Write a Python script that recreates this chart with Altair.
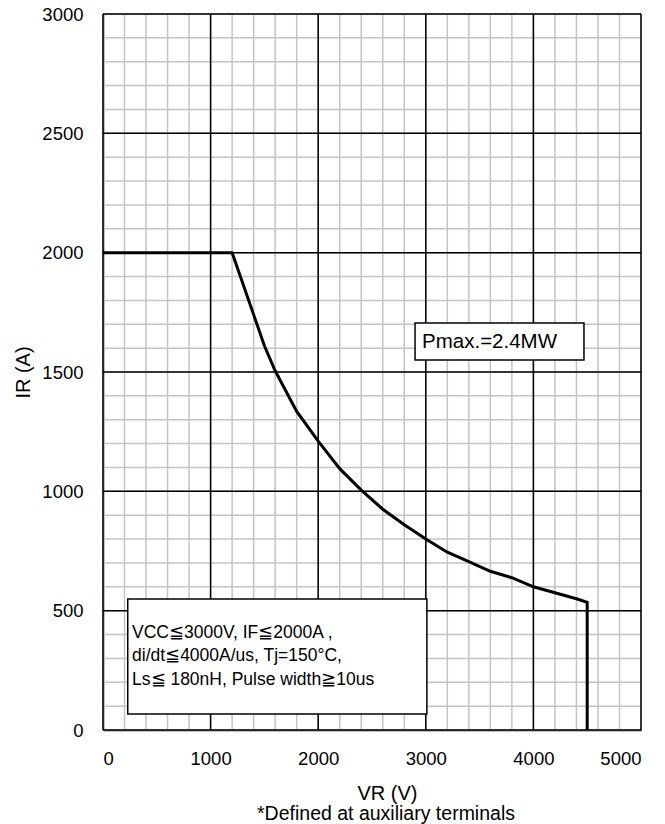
import altair as alt
import pandas as pd

# Curve data
VR = [0, 1200, 1500, 1600, 1800, 2000, 2200, 2400, 2600, 2800, 3000,
      3200, 3400, 3600, 3800, 4000, 4200, 4400, 4500, 4500]
IR = [2000, 2000, 1610, 1505, 1335, 1210, 1095, 1005, 925, 860, 800,
      745, 705, 665, 638, 600, 575, 550, 535, 0]

X_TICKS = [0, 1000, 2000, 3000, 4000, 5000]
Y_TICKS = [0, 500, 1000, 1500, 2000, 2500, 3000]
X_MINOR = list(range(0, 5001, 200))
Y_MINOR = list(range(0, 3001, 100))

NOTE_LINES = ["VCC≦3000V, IF≦2000A ,",
              "di/dt≦4000A/us, Tj=150°C,",
              "Ls≦ 180nH, Pulse width≧10us"]
NOTE_Y = [406, 310, 209]
PMAX_TEXT = "Pmax.=2.4MW"
FOOTNOTE = "*Defined at auxiliary terminals"

FONT = "Liberation Sans"

curve = pd.DataFrame({"VR": VR, "IR": IR, "i": list(range(len(VR)))})

xs = alt.Scale(domain=[0, 5000], nice=False, zero=False)
ys = alt.Scale(domain=[0, 3000], nice=False, zero=False)

xaxis = alt.Axis(values=X_TICKS, format="d", grid=False, ticks=False, labelPadding=19,
                 labelFontSize=18.5, labelFont=FONT, labelColor="black",
                 domainColor="black", domainWidth=1.5, title="VR (V)",
                 titleFont=FONT, titleFontSize=20, titleFontWeight="normal",
                 titleColor="black", titleX=284, titleY=63,
                 titleBaseline="middle", titleAlign="center")
yaxis = alt.Axis(values=Y_TICKS, format="d", grid=False, ticks=False, labelPadding=20,
                 labelFontSize=18.5, labelFont=FONT, labelColor="black",
                 domainColor="black", domainWidth=1.5, title="IR (A)",
                 titleFont=FONT, titleFontSize=20, titleFontWeight="normal",
                 titleColor="black", titleX=-80, titleY=358, titleAngle=-90,
                 titleBaseline="middle", titleAlign="center")

minor_v = alt.Chart(pd.DataFrame({"v": X_MINOR})).mark_rule(
    color="#c4c4c4", strokeWidth=1.5).encode(x=alt.X("v:Q", scale=xs, axis=xaxis))
minor_h = alt.Chart(pd.DataFrame({"v": Y_MINOR})).mark_rule(
    color="#c4c4c4", strokeWidth=1.5).encode(y=alt.Y("v:Q", scale=ys, axis=yaxis))
major_v = alt.Chart(pd.DataFrame({"v": X_TICKS})).mark_rule(
    color="black", strokeWidth=1.5).encode(x=alt.X("v:Q", scale=xs))
major_h = alt.Chart(pd.DataFrame({"v": Y_TICKS})).mark_rule(
    color="black", strokeWidth=1.5).encode(y=alt.Y("v:Q", scale=ys))

line = alt.Chart(curve).mark_line(color="black", strokeWidth=3).encode(
    x=alt.X("VR:Q", scale=xs), y=alt.Y("IR:Q", scale=ys), order="i:Q")

boxes = alt.Chart(pd.DataFrame({
    "x": [2900, 230], "x2": [4470, 3010], "y": [1550, 67], "y2": [1705, 549]
})).mark_rect(fill="white", stroke="black", strokeWidth=1.5).encode(
    x=alt.X("x:Q", scale=xs), x2="x2:Q", y=alt.Y("y:Q", scale=ys), y2="y2:Q")

pmax = alt.Chart(pd.DataFrame({"x": [2965], "y": [1627], "t": [PMAX_TEXT]})).mark_text(
    align="left", baseline="middle", font=FONT, fontSize=20.5, color="black").encode(
    x=alt.X("x:Q", scale=xs), y=alt.Y("y:Q", scale=ys), text="t:N")

note = alt.Chart(pd.DataFrame({"x": [270] * 3, "y": NOTE_Y, "t": NOTE_LINES})).mark_text(
    align="left", baseline="middle", font=FONT, fontSize=17.5, color="black").encode(
    x=alt.X("x:Q", scale=xs), y=alt.Y("y:Q", scale=ys), text="t:N")

foot = alt.Chart(pd.DataFrame({"t": [FOOTNOTE]})).mark_text(
    align="center", baseline="middle", font=FONT, fontSize=19.5, color="black").encode(
    x=alt.value(283), y=alt.value(800), text="t:N")

chart = alt.layer(minor_v, minor_h, major_v, major_h, line, boxes, pmax, note, foot).properties(
    width=538, height=716,
    autosize=alt.AutoSizeParams(type="none"),
    padding={"left": 103, "top": 14, "right": 24, "bottom": 94},
).configure_view(stroke="black", strokeWidth=1.5).configure(background="white")

chart.save("out.html", embed_options={"renderer": "svg", "actions": False})
